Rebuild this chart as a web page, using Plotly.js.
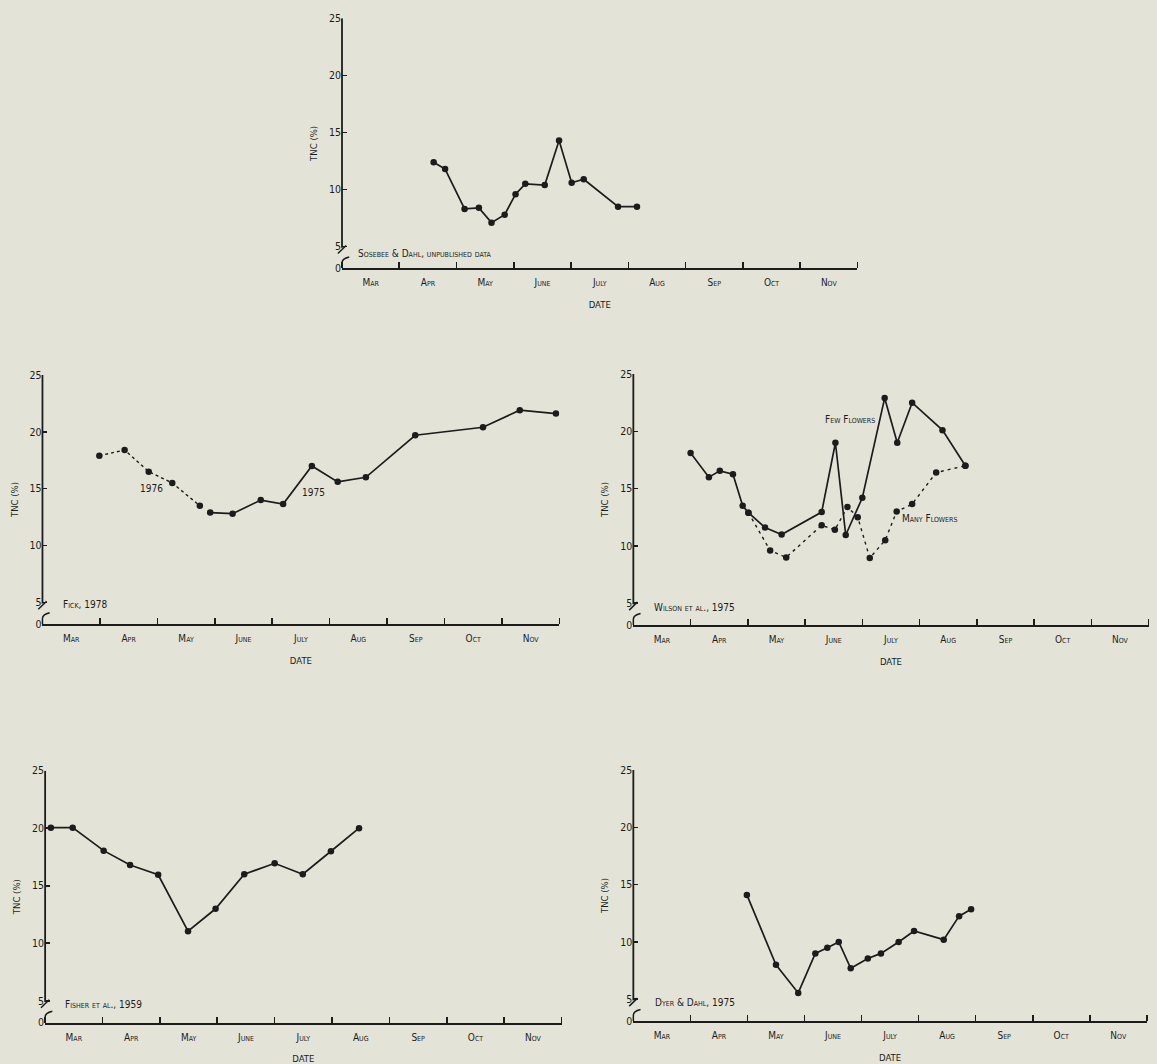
<!DOCTYPE html>
<html>
<head>
<meta charset="utf-8">
<script src="https://cdn.plot.ly/plotly-3.0.1.min.js"></script>
<style>
  html, body { margin: 0; padding: 0; background: #e3e4d7; }
  #chart { width: 1157px; height: 1064px; }
</style>
</head>
<body>
<div id="chart"></div>
<script>
// ---- data (x = months after 1 March, y = TNC %) ----
const months = ['Mar', 'Apr', 'May', 'June', 'July', 'Aug', 'Sep', 'Oct', 'Nov'];
const yTickLabels = ['0', '5', '10', '15', '20', '25'];

const sosebeeMonth = [1.60, 1.80, 2.14, 2.39, 2.61, 2.84, 3.03, 3.20, 3.54, 3.79, 4.01, 4.22, 4.82, 5.15];
const sosebeeTNC   = [12.4, 11.8, 8.3, 8.4, 7.1, 7.8, 9.6, 10.5, 10.4, 14.3, 10.6, 10.9, 8.5, 8.5];

const fick1976Month = [0.99, 1.43, 1.85, 2.26, 2.74];
const fick1976TNC   = [17.9, 18.4, 16.5, 15.5, 13.5];
const fick1975Month = [2.92, 3.31, 3.80, 4.19, 4.69, 5.14, 5.63, 6.49, 7.67, 8.31, 8.94];
const fick1975TNC   = [12.9, 12.8, 14.0, 13.65, 17.0, 15.6, 16.0, 19.7, 20.4, 21.9, 21.6];

const fewFlowersMonth = [1.00, 1.32, 1.51, 1.74, 1.91, 2.01, 2.30, 2.59, 3.29, 3.53, 3.71, 4.00, 4.39, 4.61, 4.87, 5.40, 5.80];
const fewFlowersTNC   = [18.1, 16.0, 16.55, 16.25, 13.5, 12.9, 11.6, 11.0, 12.95, 19.0, 10.95, 14.2, 22.9, 19.0, 22.5, 20.1, 17.0];
const manyFlowersMonth = [2.01, 2.39, 2.67, 3.29, 3.52, 3.74, 3.92, 4.13, 4.40, 4.60, 4.87, 5.29, 5.80];
const manyFlowersTNC   = [12.9, 9.6, 9.0, 11.8, 11.4, 13.4, 12.5, 8.95, 10.5, 13.0, 13.65, 16.4, 17.0];

const fisherMonth = [0.10, 0.48, 1.02, 1.48, 1.97, 2.49, 2.97, 3.47, 4.00, 4.49, 4.98, 5.47];
const fisherTNC   = [20.05, 20.05, 18.05, 16.8, 15.95, 11.05, 13.0, 16.0, 16.95, 16.0, 18.0, 20.0];

const dyerMonth = [1.99, 2.50, 2.89, 3.19, 3.40, 3.60, 3.81, 4.11, 4.34, 4.65, 4.92, 5.44, 5.71, 5.92];
const dyerTNC   = [14.1, 8.0, 5.55, 9.0, 9.5, 10.0, 7.7, 8.55, 9.0, 10.0, 10.95, 10.2, 12.25, 12.85];

// ---- styling ----
const INK = '#1c1c1c';
const BG = '#e3e4d7';
const FONT = 'Liberation Sans Narrow, DejaVu Sans Condensed, Arial Narrow, sans-serif';
const Y0 = 3.1;   // position where the broken axis shows "0"

function series(x, y, ax, dash) {
  return {
    x: x, y: y, xaxis: ax.x, yaxis: ax.y, type: 'scatter', mode: 'lines+markers',
    line: { color: INK, width: dash ? 1.4 : 1.7, dash: dash || 'solid' },
    marker: { color: INK, size: 6.5 },
    showlegend: false, hoverinfo: 'skip'
  };
}

const panels = [
  { x: 'x',  y: 'y',  xd: [0.2956, 0.7411], yd: [0.7478, 0.9828] },
  { x: 'x2', y: 'y2', xd: [0.0367, 0.4835], yd: [0.4135, 0.6476] },
  { x: 'x3', y: 'y3', xd: [0.5474, 0.9927], yd: [0.4126, 0.6485] },
  { x: 'x4', y: 'y4', xd: [0.0390, 0.4854], yd: [0.0388, 0.2757] },
  { x: 'x5', y: 'y5', xd: [0.5474, 0.9912], yd: [0.0404, 0.2763] }
];

const data = [
  series(sosebeeMonth, sosebeeTNC, panels[0]),
  series(fick1976Month, fick1976TNC, panels[1], 'dot'),
  series(fick1975Month, fick1975TNC, panels[1]),
  series(fewFlowersMonth, fewFlowersTNC, panels[2]),
  series(manyFlowersMonth, manyFlowersTNC, panels[2], '3px,4px'),
  series(fisherMonth, fisherTNC, panels[3]),
  series(dyerMonth, dyerTNC, panels[4])
];

const layout = {
  width: 1157, height: 1064,
  margin: { l: 0, r: 0, t: 0, b: 0 },
  paper_bgcolor: BG, plot_bgcolor: 'rgba(0,0,0,0)',
  font: { family: FONT, color: INK },
  showlegend: false,
  shapes: [], annotations: []
};

const monthCenters = months.map((m, i) => i + 0.5);
const yTickVals = [Y0, 5, 10, 15, 20, 25];

panels.forEach((p, i) => {
  const xk = 'xaxis' + (i === 0 ? '' : i + 1);
  const yk = 'yaxis' + (i === 0 ? '' : i + 1);
  layout[xk] = {
    domain: p.xd, anchor: p.y, range: [0, months.length],
    tickmode: 'array', tickvals: monthCenters, ticktext: months,
    ticks: '', showgrid: false, zeroline: false,
    showline: true, linecolor: INK, linewidth: 1.8,
    ticklabelstandoff: 4,
    tickfont: { size: 10, family: FONT, variant: 'small-caps', color: INK },
    minor: { tickmode: 'linear', tick0: 0, dtick: 1, ticks: 'inside', ticklen: 6, tickwidth: 1.6, tickcolor: INK, showgrid: false },
    title: { text: 'DATE', font: { size: 9.5, family: FONT, color: INK }, standoff: 14 },
    automargin: false, fixedrange: true
  };
  layout[yk] = {
    domain: p.yd, anchor: p.x, range: [Y0, 25],
    tickmode: 'array', tickvals: yTickVals, ticktext: yTickLabels,
    ticks: 'inside', ticklen: 5, tickwidth: 1.6, tickcolor: INK,
    showgrid: false, zeroline: false, showline: false,
    tickfont: { size: 10.5, family: FONT, color: INK },
    title: { text: 'TNC (%)', font: { size: 9.5, family: FONT, color: INK }, standoff: 9 },
    automargin: false, fixedrange: true
  };
  const xr = p.x + ' domain';
  // upper part of broken y axis
  layout.shapes.push({ type: 'line', xref: xr, yref: p.y, x0: 0, x1: 0, y0: 4.9, y1: 25,
    line: { color: INK, width: 1.8 }, layer: 'above' });
  // break slash
  layout.shapes.push({ type: 'line', xref: xr, yref: p.y, x0: -0.008, x1: 0.008, y0: 4.4, y1: 5.1,
    line: { color: INK, width: 1.5 }, layer: 'above' });
  // lower hook down to zero
  layout.shapes.push({ type: 'path', xref: xr, yref: p.y,
    path: 'M 0 ' + Y0 + ' L 0 3.6 Q 0 3.95 0.014 4.1',
    line: { color: INK, width: 1.5 }, layer: 'above' });
});

function note(text, ax, x, y, anchor) {
  layout.annotations.push({
    text: text, xref: ax.x, yref: ax.y, x: x, y: y,
    xanchor: anchor || 'left', yanchor: 'middle', showarrow: false,
    font: { size: 10, family: FONT, variant: 'small-caps', color: INK }
  });
}
note('Sosebee & Dahl, unpublished data', panels[0], 0.24, 4.4);
note('1976', panels[1], 1.89, 15.0, 'center');
note('1975', panels[1], 4.72, 14.7, 'center');
note('Fick, 1978', panels[1], 0.32, 4.8);
note('Few Flowers', panels[2], 3.31, 21.0);
note('Many Flowers', panels[2], 4.66, 12.35);
note('Wilson et al., 1975', panels[2], 0.32, 4.6);
note('Fisher et al., 1959', panels[3], 0.31, 4.65);
note('Dyer & Dahl, 1975', panels[4], 0.35, 4.75);

Plotly.newPlot('chart', data, layout, { staticPlot: true, displayModeBar: false });
</script>
</body>
</html>
